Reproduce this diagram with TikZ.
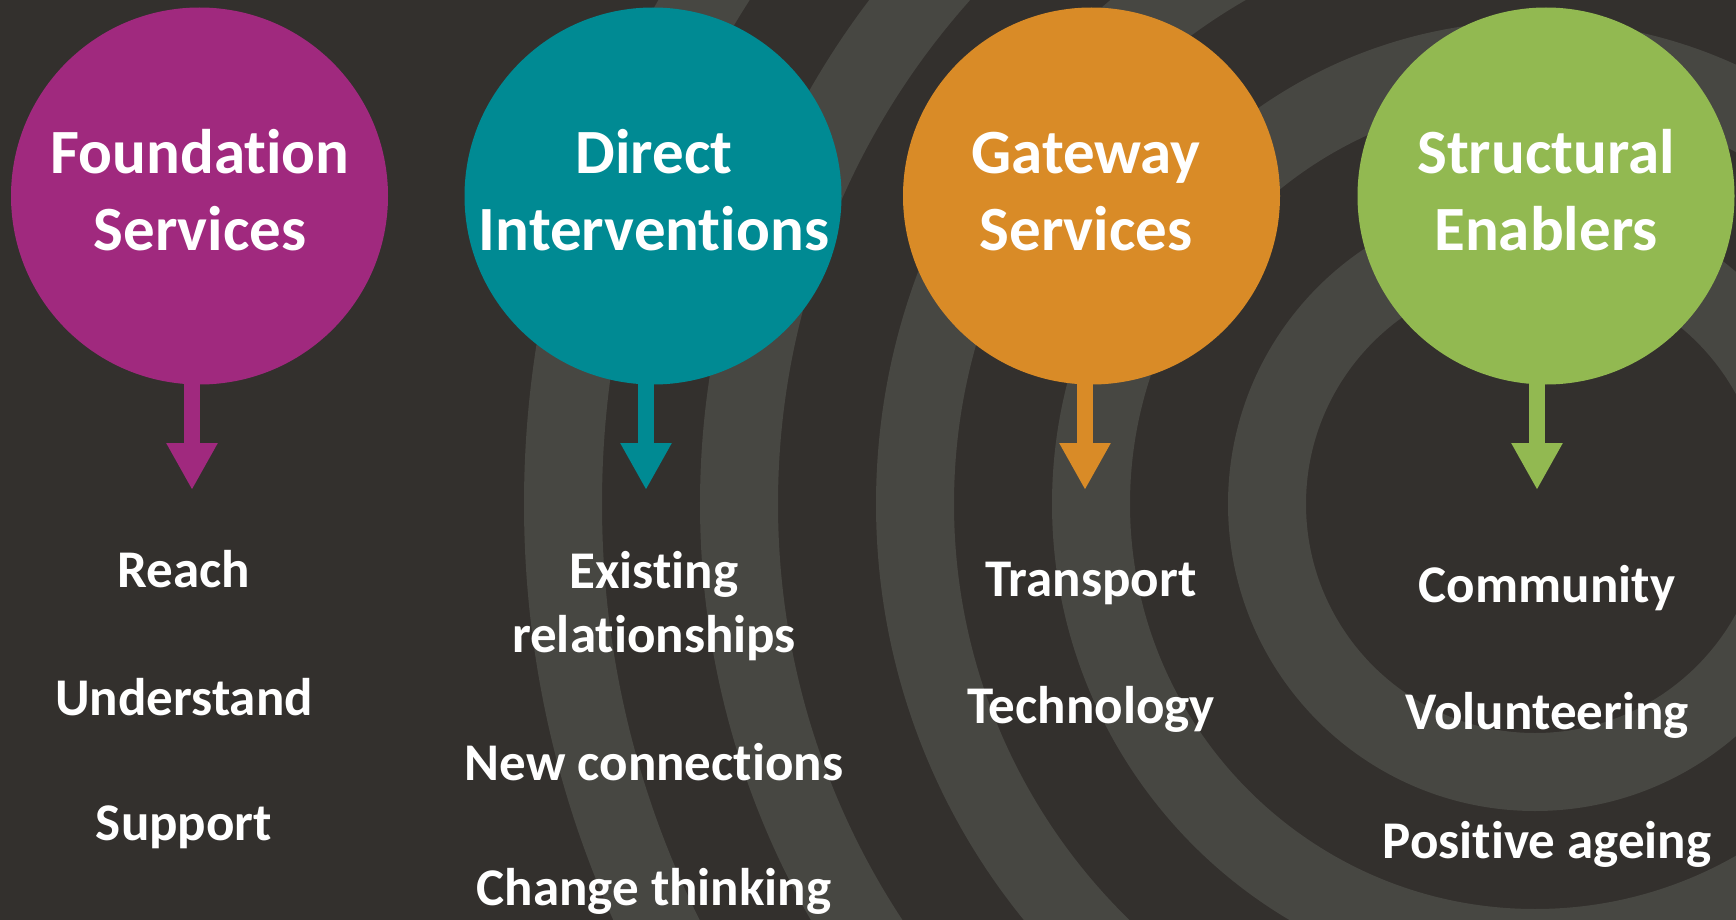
\documentclass[tikz,border=0pt]{standalone}
\usepackage{fontspec}
\setmainfont{Carlito}[Ligatures=CommonOff]
\usetikzlibrary{arrows.meta}
\definecolor{bgdark}{HTML}{33302D}
\definecolor{ringgrey}{HTML}{474742}
\definecolor{cpurple}{HTML}{A0297E}
\definecolor{cteal}{HTML}{008A93}
\definecolor{corange}{HTML}{D98B27}
\definecolor{cgreen}{HTML}{92B951}
\begin{document}
\begin{tikzpicture}[x=0.5pt,y=-0.5pt,
  bubble/.style={circle, inner sep=0pt, minimum size=188.5pt},
  title/.style={text=white, font=\fontsize{31.5}{38.5}\selectfont\bfseries, anchor=base, inner sep=0pt},
  item/.style={text=white, font=\fontsize{26.5}{31}\selectfont\bfseries, anchor=base, inner sep=0pt},
  ring/.style={draw=ringgrey, line width=39pt},
  arr/.style={line width=8pt, -{Triangle[width=24pt,length=23.5pt]}, shorten <=-2pt}
]
\fill[bgdark] (0,0) rectangle (1736,920);
\useasboundingbox (0,0) rectangle (1736,920);
\begin{scope}
  \clip (0,0) rectangle (1736,920);
  \foreach \r in {134,222,310,398,486} \draw[ring] (1535,504) circle[radius=\r pt];
\end{scope}

% bubbles
\node[bubble, fill=cpurple] (c1) at (199.5,196) {};
\node[bubble, fill=cteal]   (c2) at (653,196) {};
\node[bubble, fill=corange] (c3) at (1091.5,196) {};
\node[bubble, fill=cgreen]  (c4) at (1546,196) {};

% titles
\node[title] (t1a) at (200,174) {Foundation};
\node[title] (t1b) at (200,250) {Services};
\node[title] (t2a) at (654,174) {Direct};
\node[title] (t2b) at (654,250) {Interventions};
\node[title] (t3a) at (1086,174) {Gateway};
\node[title] (t3b) at (1086,250) {Services};
\node[title] (t4a) at (1546,174) {Structural};
\node[title] (t4b) at (1546,250) {Enablers};

% arrows
\coordinate (a1) at (192,490);
\coordinate (a2) at (646,490);
\coordinate (a3) at (1085,490);
\coordinate (a4) at (1537,490);
\draw[arr, cpurple] (c1.south -| a1) -- (a1);
\draw[arr, cteal]   (c2.south -| a2) -- (a2);
\draw[arr, corange] (c3.south -| a3) -- (a3);
\draw[arr, cgreen]  (c4.south -| a4) -- (a4);

% items
\node[item] (i1a) at (184,587) {Reach};
\node[item] (i1b) at (184,715) {Understand};
\node[item] (i1c) at (184,840) {Support};

\node[item] (i2a) at (654,588) {Existing};
\node[item] (i2b) at (654,652) {relationships};
\node[item] (i2c) at (654,780) {New connections};
\node[item] (i2d) at (654,905) {Change thinking};

\node[item] (i3a) at (1091,596) {Transport};
\node[item] (i3b) at (1091,723) {Technology};

\node[item] (i4a) at (1547,602) {Community};
\node[item] (i4b) at (1547,729) {Volunteering};
\node[item] (i4c) at (1547,858) {Positive ageing};
\end{tikzpicture}
\end{document}
